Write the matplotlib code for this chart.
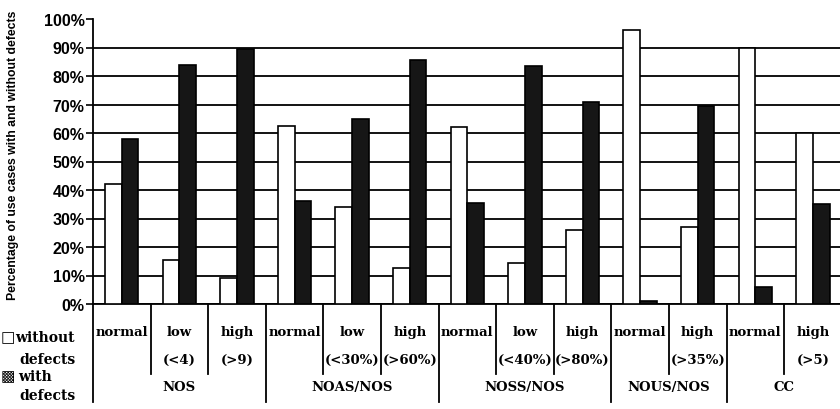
import matplotlib.pyplot as plt
import numpy as np

# values (percent of use cases)
sub_names = ['normal', 'low', 'high', 'normal', 'low', 'high', 'normal', 'low', 'high',
             'normal', 'high', 'normal', 'high']
sub_conds = ['', '(<4)', '(>9)', '', '(<30%)', '(>60%)', '', '(<40%)', '(>80%)',
             '', '(>35%)', '', '(>5)']
groups = ['NOS', 'NOAS/NOS', 'NOSS/NOS', 'NOUS/NOS', 'CC']
group_sizes = [3, 3, 3, 2, 2]
without_defects = [42, 15.5, 9, 62.5, 34, 12.5, 62, 14.5, 26, 96, 27, 90, 60]
with_defects = [58, 84, 89.5, 36, 65, 85.5, 35.5, 83.5, 71, 1, 69.5, 6, 35]

serif = 'DejaVu Serif'
W, H = 840, 410
fig = plt.figure(figsize=(8.4, 4.1), dpi=100)

left = 93 / W
base = 305
top = 20
ax = fig.add_axes([left, (H - base) / H, 1 - left, (base - top) / H])

x = np.arange(len(sub_names))
w = 0.29
ax.bar(x - w / 2, without_defects, w, color='white', edgecolor='black', linewidth=1.2, zorder=3)
ax.bar(x + w / 2, with_defects, w, color='#161616', edgecolor='black', linewidth=1.2, zorder=3)

ax.set_xlim(-0.5, 12.47)
ax.set_ylim(0, 100)
ax.set_yticks(range(0, 101, 10))
ax.set_yticklabels([f'{v}%' for v in range(0, 101, 10)],
                   fontfamily='Liberation Sans', fontweight='bold', fontsize=11.5)
ax.tick_params(axis='y', direction='out', length=5, width=1.2, pad=1)
ax.set_xticks([])
ax.yaxis.grid(True, color='black', linewidth=1.3)
ax.get_ygridlines()[-1].set_visible(False)
ax.set_axisbelow(True)
for s in ['top', 'right']:
    ax.spines[s].set_visible(False)
ax.spines['left'].set_linewidth(1.3)
ax.spines['bottom'].set_linewidth(1.3)

fig.text(13 / W, 1 - 155 / H, 'Percentage of use cases with and without defects',
         rotation=90, ha='center', va='center', fontsize=8.8, fontweight='bold',
         fontfamily='Liberation Sans')

# category table under the plot, y measured in pixels below the baseline
tab = fig.add_axes([left, 0, 1 - left, (H - base) / H])
tab.set_xlim(ax.get_xlim())
tab.set_ylim(H - base, 0)
tab.axis('off')

tkw = dict(ha='center', va='center', fontsize=9.5, fontweight='bold', fontfamily=serif)
for i, (n, c) in enumerate(zip(sub_names, sub_conds)):
    tab.text(i, 28, n, **tkw)
    if c:
        tab.text(i, 55, c, **tkw)

edges = np.concatenate([[0], np.cumsum(group_sizes)]) - 0.5
for k, g in enumerate(groups):
    tab.text((edges[k] + edges[k + 1]) / 2, 83, g, **tkw)
for i in range(len(sub_names) + 1):
    xe = i - 0.5
    if np.any(np.isclose(edges, xe)):
        tab.plot([xe, xe], [0, 98], color='black', lw=1.3, clip_on=False)
    else:
        tab.plot([xe, xe], [0, 70], color='black', lw=1.3, clip_on=False)

# legend in the lower left corner
fig.text(1 / W, 1 - 338 / H, '\u25a1', fontsize=11, va='center', ha='left', fontfamily='DejaVu Sans')
fig.text(15 / W, 1 - 338 / H, 'without', fontsize=10, va='center', ha='left',
         fontweight='bold', fontfamily=serif)
fig.text(48 / W, 1 - 360 / H, 'defects', fontsize=10, va='center', ha='center',
         fontweight='bold', fontfamily=serif)
fig.text(1 / W, 1 - 377 / H, '\u25a9', fontsize=11, va='center', ha='left', fontfamily='DejaVu Sans')
fig.text(18 / W, 1 - 377 / H, 'with', fontsize=10, va='center', ha='left',
         fontweight='bold', fontfamily=serif)
fig.text(48 / W, 1 - 396 / H, 'defects', fontsize=10, va='center', ha='center',
         fontweight='bold', fontfamily=serif)

fig.savefig('out.png', dpi=100)
